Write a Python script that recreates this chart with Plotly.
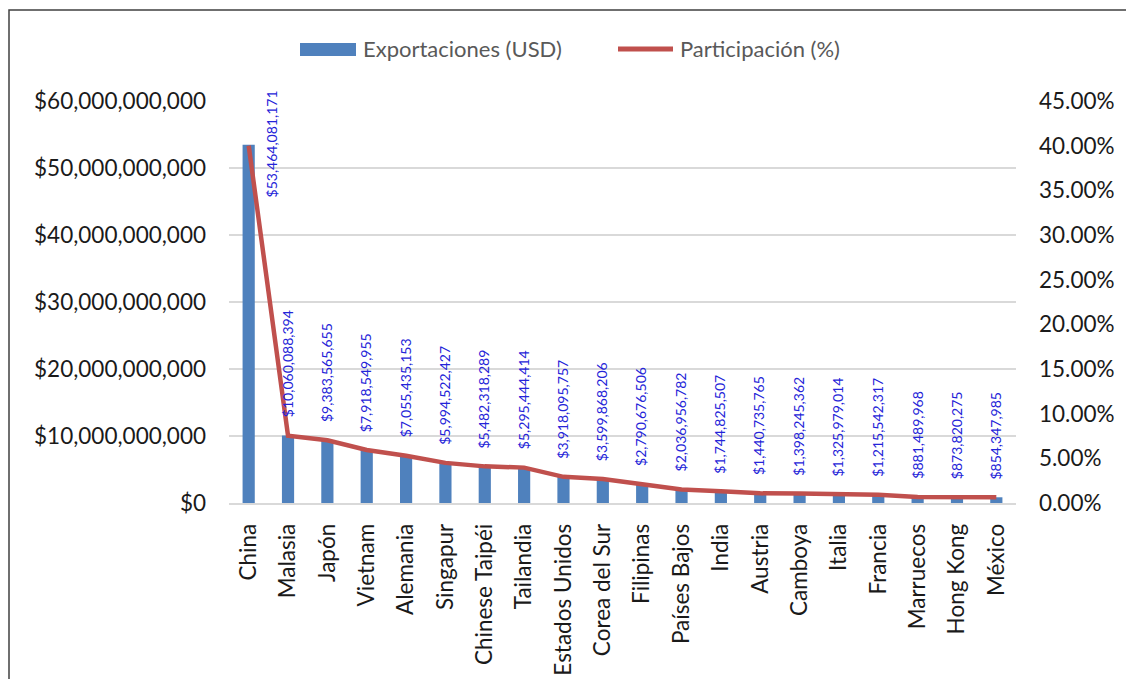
import plotly.graph_objects as go

# Export destinations, exports in USD and share of total (%)
paises = [
    "China", "Malasia", "Japón", "Vietnam", "Alemania", "Singapur",
    "Chinese Taipéi", "Tailandia", "Estados Unidos", "Corea del Sur",
    "Filipinas", "Países Bajos", "India", "Austria", "Camboya", "Italia",
    "Francia", "Marruecos", "Hong Kong", "México",
]
exportaciones = [
    53464081171, 10060088394, 9383565655, 7918549955, 7055435153,
    5994522427, 5482318289, 5295444414, 3918095757, 3599868206,
    2790676506, 2036956782, 1744825507, 1440735765, 1398245362,
    1325979014, 1215542317, 881489968, 873820275, 854347985,
]
participacion = [
    40.00, 7.53, 7.02, 5.93, 5.28, 4.49, 4.10, 3.96, 2.93, 2.69,
    2.09, 1.52, 1.31, 1.08, 1.05, 0.99, 0.91, 0.66, 0.65, 0.64,
]

BAR_COLOR = "#4f81bd"
LINE_COLOR = "#c0504d"
LABEL_BLUE = "#2424d8"
FONT = "Lato"

# plot area in pixels (used to place legend / frame in paper units)
W, H = 1126, 679
L, R, T, B = 229, 110, 101, 176
PW, PH = W - L - R, H - T - B


def px(x):
    return (x - L) / PW


def py(y):
    return (H - B - y) / PH


fig = go.Figure()

fig.add_trace(go.Bar(
    x=paises, y=exportaciones, name="Exportaciones (USD)",
    marker=dict(color=BAR_COLOR, line=dict(width=0)),
    showlegend=False, yaxis="y",
))
fig.add_trace(go.Scatter(
    x=paises, y=[p / 100 for p in participacion], name="Participación (%)",
    mode="lines", line=dict(color=LINE_COLOR, width=4.5),
    showlegend=False, yaxis="y2",
))

# value labels above the bars
val_font = dict(family=FONT, size=14, color=LABEL_BLUE)
annotations = []
for i, (pais, val) in enumerate(zip(paises, exportaciones)):
    txt = "${:,.0f}".format(val)
    if i == 0:
        annotations.append(dict(
            x=pais, y=val, xref="x", yref="y", text=txt, textangle=-90,
            showarrow=False, xanchor="center", yanchor="middle",
            xshift=23, yshift=1, font=val_font,
        ))
    else:
        annotations.append(dict(
            x=pais, y=val, xref="x", yref="y", text=txt, textangle=-90,
            showarrow=False, xanchor="center", yanchor="bottom",
            xshift=-1, yshift=16, font=val_font,
        ))

# legend entries
leg_font = dict(family=FONT, size=22, color="#595959")
annotations.append(dict(
    x=px(361), y=py(49), xref="paper", yref="paper", text="Exportaciones (USD)",
    showarrow=False, xanchor="left", yanchor="middle", font=leg_font,
))
annotations.append(dict(
    x=px(678), y=py(49), xref="paper", yref="paper", text="Participación (%)",
    showarrow=False, xanchor="left", yanchor="middle", font=leg_font,
))

# chart frame: open path along the left and top edges
frame_path = "M {:.5f} {:.5f} L {:.5f} {:.5f} L {:.5f} {:.5f}".format(
    px(9), py(H), px(9), py(10), px(W), py(10)
)

shapes = [
    dict(type="rect", xref="paper", yref="paper",
         x0=px(300), x1=px(356), y0=py(56), y1=py(43),
         fillcolor=BAR_COLOR, line=dict(width=0)),
    dict(type="line", xref="paper", yref="paper",
         x0=px(618), x1=px(673), y0=py(49), y1=py(49),
         line=dict(color=LINE_COLOR, width=5)),
    dict(type="path", xref="paper", yref="paper", path=frame_path,
         line=dict(color="#404040", width=1.5)),
]

tick_font = dict(family=FONT, size=22.5, color="#1a1a1a")

fig.update_layout(
    width=W, height=H,
    margin=dict(l=L, r=R, t=T, b=B, autoexpand=False),
    paper_bgcolor="white", plot_bgcolor="white",
    bargap=0.69,
    showlegend=False,
    xaxis=dict(
        tickangle=-90, tickfont=tick_font, showgrid=False,
        showline=True, linecolor="#d9d9d9", linewidth=1.5,
        ticks="", ticklabelstandoff=10,
    ),
    yaxis=dict(
        range=[0, 6e10], dtick=1e10, tickformat="$,.0f",
        tickfont=tick_font, showgrid=True, gridcolor="#d9d9d9", gridwidth=1.5,
        zeroline=False, ticks="", ticklabelstandoff=22,
    ),
    yaxis2=dict(
        range=[0, 0.45], dtick=0.05, tickformat=".2%", overlaying="y",
        side="right", tickfont=tick_font, showgrid=False, zeroline=False,
        ticks="", ticklabelstandoff=22,
    ),
    annotations=annotations,
    shapes=shapes,
)

fig.write_html("out.html")
